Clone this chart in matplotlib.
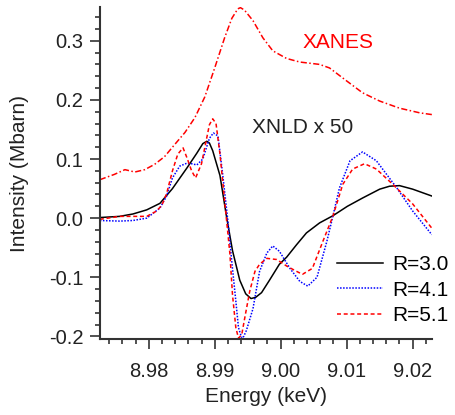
import numpy as np
import matplotlib
matplotlib.use("Agg")
import matplotlib.pyplot as plt
from matplotlib.ticker import MultipleLocator

# energies (keV) and intensities (Mbarn)
xanes_e = [8.9726, 8.9748, 8.9764, 8.9779, 8.9794, 8.9809, 8.9824, 8.9839, 8.9855,
           8.9870, 8.9885, 8.9900, 8.9915, 8.9926, 8.9935, 8.9939, 8.9945, 8.9958,
           8.9973, 8.9988, 9.0009, 9.0029, 9.0059, 9.0074, 9.0100, 9.0124, 9.0150,
           9.0180, 9.0211, 9.0230]
xanes_i = [0.065, 0.074, 0.082, 0.078, 0.082, 0.091, 0.104, 0.124, 0.145,
           0.170, 0.205, 0.254, 0.305, 0.338, 0.354, 0.356, 0.352, 0.334,
           0.305, 0.283, 0.270, 0.264, 0.260, 0.254, 0.232, 0.212, 0.198,
           0.186, 0.178, 0.175]

r30_e = [8.9726, 8.9756, 8.9776, 8.9797, 8.9817, 8.9836, 8.9858, 8.9873, 8.9882,
         8.9888, 8.9892, 8.9897, 8.9908, 8.9918, 8.9927, 8.9938, 8.9947, 8.9955,
         8.9962, 8.9971, 8.9983, 8.9998, 9.0009, 9.0024, 9.0039, 9.0059, 9.0079,
         9.0101, 9.0124, 9.0150, 9.0165, 9.0180, 9.0200, 9.0215, 9.0230]
r30_i = [0.001, 0.003, 0.007, 0.014, 0.025, 0.050, 0.085, 0.110, 0.126,
         0.130, 0.127, 0.114, 0.072, 0.002, -0.055, -0.105, -0.128, -0.136,
         -0.134, -0.126, -0.105, -0.078, -0.066, -0.045, -0.025, -0.008, 0.004,
         0.020, 0.034, 0.049, 0.054, 0.055, 0.049, 0.043, 0.037]

r41_e = [8.9726, 8.9756, 8.9776, 8.9797, 8.9817, 8.9827, 8.9836, 8.9847, 8.9858,
         8.9865, 8.9873, 8.9882, 8.9892, 8.9898, 8.9905, 8.9912, 8.9920, 8.9926,
         8.9932, 8.9936, 8.9941, 8.9944, 8.9948, 8.9958, 8.9968, 8.9979, 8.9988,
         8.9998, 9.0014, 9.0029, 9.0041, 9.0055, 9.0070, 9.0079, 9.0089, 9.0105,
         9.0124, 9.0145, 9.0176, 9.0200, 9.0229]
r41_i = [-0.004, -0.005, -0.004, 0.000, 0.017, 0.037, 0.068, 0.088, 0.093,
         0.092, 0.090, 0.100, 0.135, 0.144, 0.139, 0.075, -0.005, -0.075,
         -0.140, -0.185, -0.203, -0.200, -0.190, -0.153, -0.090, -0.059, -0.047,
         -0.056, -0.085, -0.107, -0.115, -0.100, -0.039, 0.003, 0.051, 0.097,
         0.112, 0.097, 0.051, 0.012, -0.028]

r51_e = [8.9726, 8.9756, 8.9776, 8.9797, 8.9812, 8.9820, 8.9827, 8.9836, 8.9844,
         8.9852, 8.9858, 8.9865, 8.9871, 8.9880, 8.9888, 8.9892, 8.9897, 8.9902,
         8.9908, 8.9915, 8.9923, 8.9927, 8.9932, 8.9936, 8.9941, 8.9945, 8.9953,
         8.9961, 8.9968, 8.9979, 8.9994, 9.0009, 9.0024, 9.0033, 9.0048, 9.0064,
         9.0079, 9.0094, 9.0109, 9.0127, 9.0145, 9.0170, 9.0200, 9.0229]
r51_i = [-0.002, 0.003, 0.003, 0.003, 0.012, 0.022, 0.041, 0.080, 0.108,
         0.119, 0.102, 0.080, 0.068, 0.092, 0.136, 0.158, 0.168, 0.160,
         0.108, 0.030, -0.060, -0.130, -0.185, -0.203, -0.197, -0.172, -0.124,
         -0.090, -0.078, -0.068, -0.070, -0.081, -0.090, -0.095, -0.085, -0.039,
         0.003, 0.057, 0.083, 0.092, 0.083, 0.057, 0.024, -0.017]

plt.rcParams['font.family'] = ['Liberation Sans', 'DejaVu Sans']

fig = plt.figure(figsize=(4.56, 4.15), dpi=100)
ax = fig.add_axes([0.219, 0.183, 0.728, 0.800])

lw = 1.1
ax.plot(xanes_e, xanes_i, color='#ff0000', lw=lw, dashes=(4, 1.6, 1, 1.6))
ax.plot(r30_e, r30_i, color='black', lw=lw, label='R=3.0')
ax.plot(r41_e, r41_i, color='#0000ff', lw=lw, dashes=(1, 1), label='R=4.1')
ax.plot(r51_e, r51_i, color='#ff0000', lw=lw, dashes=(2.6, 1.8), label='R=5.1')

ax.text(9.0033, 0.297, 'XANES', color='#ff0000', fontsize=15, va='center')
ax.text(8.9956, 0.153, 'XNLD x 50', color='#222222', fontsize=15, va='center')

ax.set_xlim(8.9726, 9.0229)
ax.set_ylim(-0.2045, 0.357)

for side in ['top', 'right']:
    ax.spines[side].set_visible(False)
for side in ['left', 'bottom']:
    ax.spines[side].set_linewidth(1.5)
    ax.spines[side].set_color('#333333')

ax.xaxis.set_major_locator(MultipleLocator(0.01))
ax.xaxis.set_minor_locator(MultipleLocator(0.002))
ax.yaxis.set_major_locator(MultipleLocator(0.1))
ax.yaxis.set_minor_locator(MultipleLocator(0.02))
ax.xaxis.set_major_formatter(plt.FormatStrFormatter('%.2f'))
ax.yaxis.set_major_formatter(plt.FormatStrFormatter('%.1f'))

ax.tick_params(which='major', length=7.5, width=1.2, labelsize=14.5, color='#333333',
               labelcolor='#222222')
ax.tick_params(which='minor', length=3.8, width=1.2, color='#333333')
ax.tick_params(axis='x', which='major', pad=9)
ax.tick_params(axis='y', which='major', pad=4.5)

ax.set_xlabel('Energy (keV)', fontsize=15, color='#222222', labelpad=4)
ax.set_ylabel('Intensity (Mbarn)', fontsize=15, color='#222222', labelpad=14)

ax.legend(loc='upper left', bbox_to_anchor=(0.714, 0.252), frameon=False,
          fontsize=15, borderpad=0, borderaxespad=0, handlelength=2.2,
          handletextpad=0.45, labelspacing=0.3)

fig.savefig('out.png', dpi=100)
